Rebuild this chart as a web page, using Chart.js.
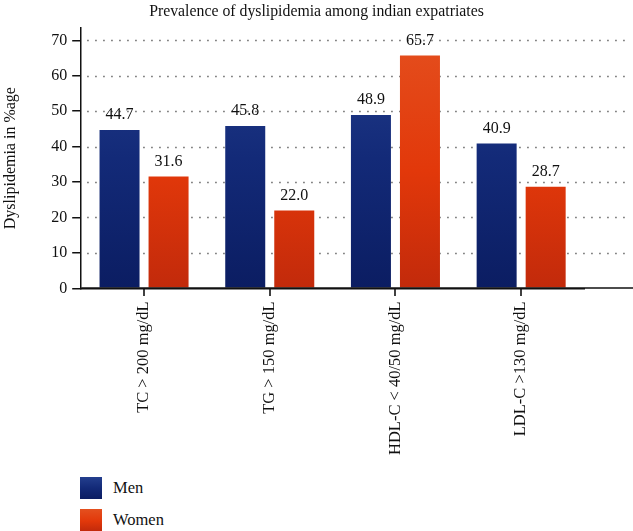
<!DOCTYPE html>
<html>
<head>
<meta charset="utf-8">
<script src="https://cdn.jsdelivr.net/npm/chart.js@4"></script>
<style>
  body { margin: 0; background: #fff; }
  #wrap { position: relative; width: 633px; height: 531px; }
  #box { position: absolute; left: 0; top: 0; width: 633px; height: 460px; }
  #legend { position: absolute; left: 80px; top: 477px; font-family: 'Liberation Serif', serif; font-size: 16.5px; color: #111; }
  #legend div { display: flex; align-items: center; height: 22px; margin-bottom: 10px; }
  #legend span.sw { display: inline-block; width: 22px; height: 22px; margin-right: 11px; }
</style>
</head>
<body>
<div id="wrap">
  <div id="box"><canvas id="myChart"></canvas></div>
  <div id="legend"></div>
</div>
<script>
const categories = ['TC > 200 mg/dL', 'TG > 150 mg/dL', 'HDL-C < 40/50 mg/dL', 'LDL-C >130 mg/dL'];
const men = [44.7, 45.8, 48.9, 40.9];
const women = [31.6, 22.0, 65.7, 28.7];
const yTicks = [0, 10, 20, 30, 40, 50, 60, 70];

const serif = "'Liberation Serif', serif";
Chart.defaults.font.family = serif;

function grad(ctx, stops) {
    const area = ctx.chart.chartArea;
    if (!area) return stops[0][1];
    const g = ctx.chart.ctx.createLinearGradient(0, area.top, 0, area.bottom);
    stops.forEach(s => g.addColorStop(s[0], s[1]));
    return g;
}
const menStops = [[0, '#243f8e'], [0.5, '#132a78'], [1, '#0b1d62']];
const womenStops = [[0, '#e4501f'], [0.55, '#e2380a'], [1, '#c22a0b']];

// dotted grid lines running past the last group to the right edge
const gridExt = {
    id: 'gridExt',
    beforeDatasetsDraw(chart) {
        const c = chart.ctx, y = chart.scales.y, a = chart.chartArea;
        const right = chart.width - 4;
        c.save();
        c.strokeStyle = '#666';
        c.lineWidth = 1.3;
        c.setLineDash([1.5, 6.5]);
        yTicks.forEach(v => {
            if (v === 0) return;
            const py = Math.round(y.getPixelForValue(v)) + 0.5;
            c.beginPath(); c.moveTo(a.left + 6, py); c.lineTo(right, py); c.stroke();
        });
        c.restore();
    },
    // x axis line to the edge + tick marks under each group
    afterDatasetsDraw(chart) {
        const c = chart.ctx, y = chart.scales.y, x = chart.scales.x, a = chart.chartArea;
        const p0 = Math.round(y.getPixelForValue(0));
        c.save();
        c.strokeStyle = '#111';
        c.lineWidth = 1.6;
        c.beginPath(); c.moveTo(a.left, p0); c.lineTo(chart.width, p0); c.stroke();
        categories.forEach((_, i) => {
            const px = Math.round(x.getPixelForValue(i));
            c.beginPath(); c.moveTo(px, p0); c.lineTo(px, p0 + 8); c.stroke();
        });
        c.restore();
    }
};

const valueLabels = {
    id: 'valueLabels',
    afterDatasetsDraw(chart) {
        const c = chart.ctx;
        c.save();
        c.font = '16px ' + serif;
        c.fillStyle = '#111';
        c.textAlign = 'center';
        c.textBaseline = 'bottom';
        chart.data.datasets.forEach((ds, i) => {
            chart.getDatasetMeta(i).data.forEach((bar, j) => {
                c.fillText(ds.data[j].toFixed(1), bar.x, bar.y - 7);
            });
        });
        c.restore();
    }
};

const ctx = document.getElementById('myChart');
const chart = new Chart(ctx, {
    type: 'bar',
    data: {
        labels: categories,
        datasets: [{
            label: 'Men',
            data: men,
            backgroundColor: c => grad(c, menStops),
            categoryPercentage: 0.78,
            barPercentage: 0.816
        }, {
            label: 'Women',
            data: women,
            backgroundColor: c => grad(c, womenStops),
            categoryPercentage: 0.78,
            barPercentage: 0.816
        }]
    },
    options: {
        responsive: true,
        maintainAspectRatio: false,
        animation: false,
        layout: { padding: { top: 2, right: 0, left: 0, bottom: 0 } },
        plugins: {
            legend: { display: false },
            tooltip: { enabled: false },
            title: {
                display: true,
                text: 'Prevalence of dyslipidemia among indian expatriates',
                color: '#111',
                font: { family: serif, size: 15.8, weight: 'normal' },
                padding: { top: 0, bottom: 7 }
            }
        },
        scales: {
            x: {
                border: { display: true, color: '#111', width: 1.5 },
                grid: { display: false },
                ticks: {
                    color: '#111',
                    font: { family: serif, size: 16.5 },
                    minRotation: 90,
                    maxRotation: 90,
                    padding: 5
                }
            },
            y: {
                min: 0,
                max: 73.5,
                afterBuildTicks: s => { s.ticks = yTicks.map(v => ({ value: v })); },
                border: { display: true, color: '#111', width: 1.5 },
                grid: { display: true, drawOnChartArea: false, drawTicks: true, tickLength: 9, color: '#111', lineWidth: 1.5 },
                ticks: { color: '#111', font: { family: serif, size: 16 }, padding: 5 },
                title: {
                    display: true,
                    text: 'Dyslipidemia in %age',
                    color: '#111',
                    font: { family: serif, size: 16 },
                    padding: { top: 1, bottom: 26 }
                }
            },
            // empty right-hand space where the grid keeps running past the last group
            spacer: {
                type: 'linear',
                position: 'right',
                border: { display: false },
                grid: { display: false },
                ticks: { display: false },
                afterFit: s => { s.width = 49; }
            }
        }
    },
    plugins: [gridExt, valueLabels]
});

// legend
const lg = document.getElementById('legend');
[['Men', menStops], ['Women', womenStops]].forEach(([name, stops]) => {
    const row = document.createElement('div');
    const sw = document.createElement('span');
    sw.className = 'sw';
    sw.style.background = 'linear-gradient(' + stops.map(s => s[1] + ' ' + (s[0] * 100) + '%').join(',') + ')';
    row.appendChild(sw);
    row.appendChild(document.createTextNode(name));
    lg.appendChild(row);
});
</script>
</body>
</html>
